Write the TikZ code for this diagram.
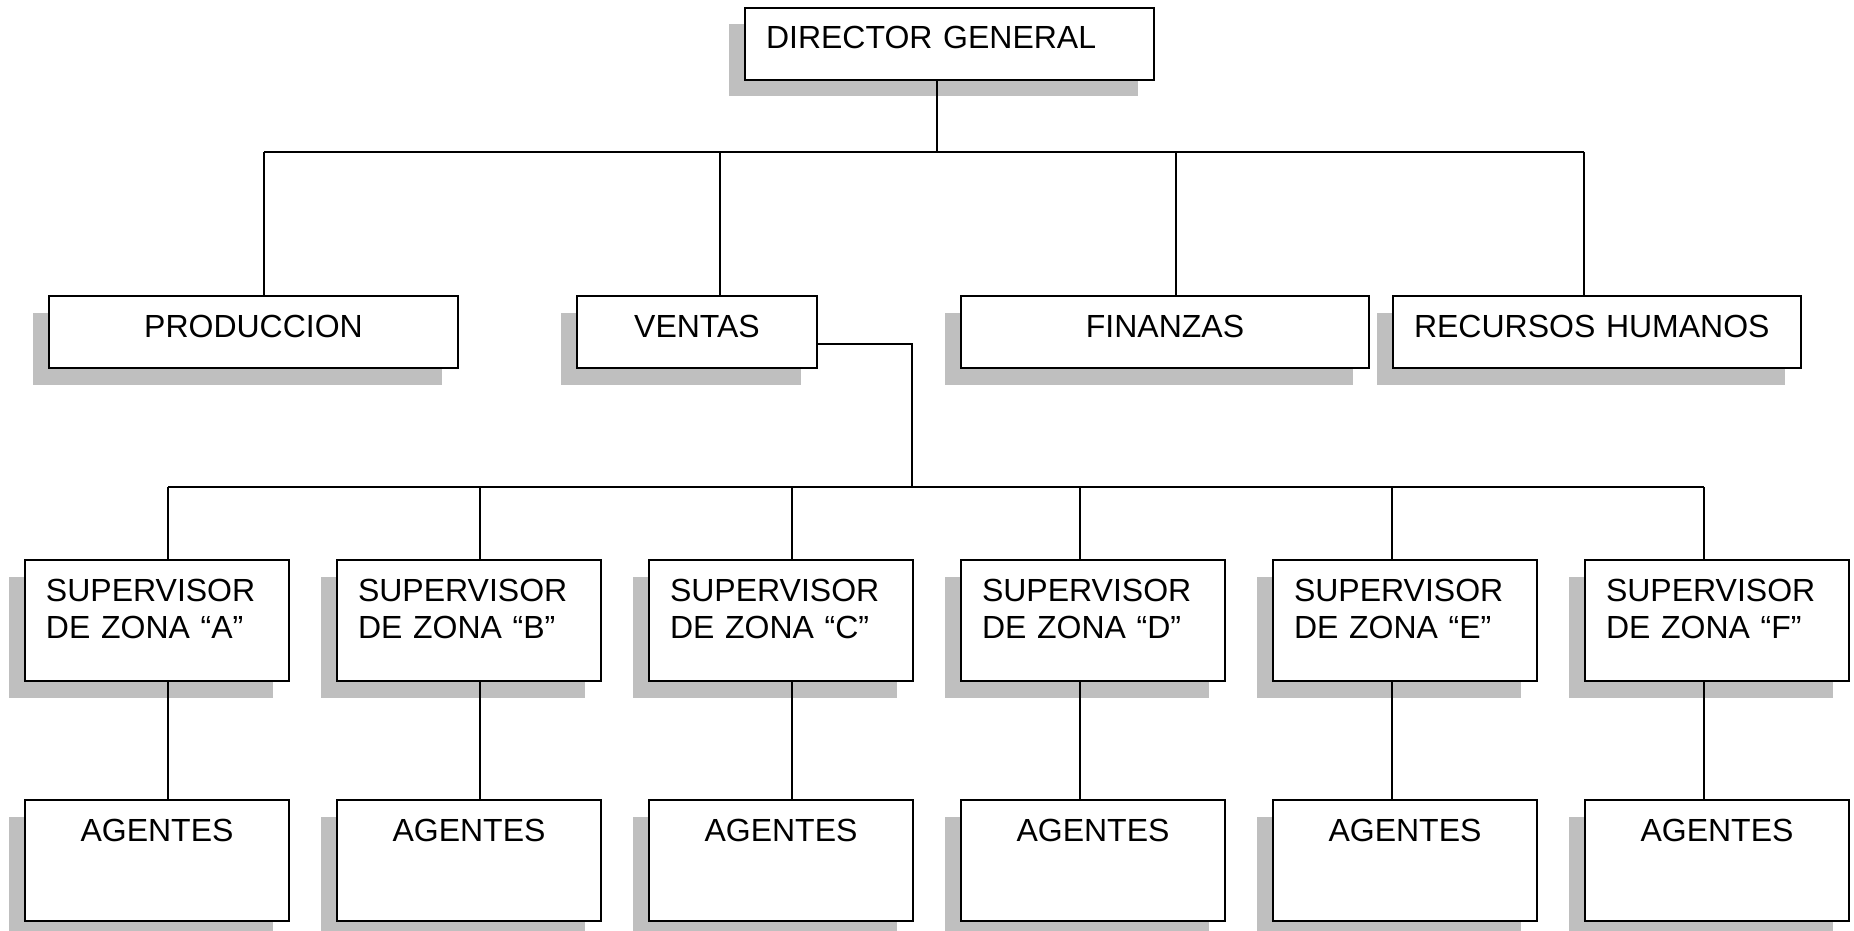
\documentclass[tikz,border=0pt]{standalone}
\usepackage{fontspec}
\setmainfont{Liberation Sans}
\usepackage{tikz}
\usetikzlibrary{shadows}
\usetikzlibrary{positioning}
\usetikzlibrary{calc}
\tikzstyle{caja}=[rectangle,draw,line width=1pt,fill=white,inner xsep=10.5pt,inner ysep=0pt,text height=20.5pt,anchor=north west,font=\fontsize{16pt}{18.5pt}\selectfont,drop shadow={shadow xshift=-8.25pt,shadow yshift=-8.25pt,fill=black!25,opacity=1}]
\tikzstyle{cajabaja}=[caja,text depth=15.5pt]
\tikzstyle{cajaalta}=[caja,text depth=40pt]
\tikzstyle{linea} = [draw,line width=1pt]

\begin{document}
\begin{tikzpicture}[x=0.5pt,y=-0.5pt]
    \useasboundingbox (0,0) rectangle (1854,931);

    % direccion y departamentos
    \node[cajabaja,text width=183.5pt,align=left] (dir) at (744,7) {DIRECTOR GENERAL};
    \node[cajabaja,text width=183.5pt,align=center] (prod) at (48,295) {PRODUCCION};
    \node[cajabaja,text width=99pt,align=center] (ven) at (576,295) {VENTAS};
    \node[cajabaja,text width=183pt,align=center] (fin) at (960,295) {FINANZAS};
    \node[cajabaja,text width=183pt,align=left] (rh) at (1392,295) {RECURSOS HUMANOS};

    % supervisores de zona y agentes
    \foreach \z/\xx/\bx in {A/24/168, B/336/480, C/648/792, D/960/1080, E/1272/1392, F/1584/1704}
    {
        \node[cajaalta,text width=111pt,align=left] (sup\z) at (\xx,559) {SUPERVISOR\\DE ZONA “\z”};
        \node[cajaalta,text width=111pt,align=center,below=58.5pt of sup\z.south west,anchor=north west] (ag\z) {AGENTES};
        \coordinate (bSup\z) at (\bx,487);
    }

    % lineas de mando
    \coordinate (bDir) at (937,152);
    \coordinate (bProd) at (264,152);
    \coordinate (bVen) at (720,152);
    \coordinate (bFin) at (1176,152);
    \coordinate (bRH) at (1584,152);
    \coordinate (bZonas) at (912,487);
    \path[linea] (bProd) -- (bRH);
    \path[linea] (dir.south -| bDir) -- (bDir);
    \foreach \n/\b in {prod/bProd, ven/bVen, fin/bFin, rh/bRH}
        \path[linea] (\b) -- (\b |- \n.north);

    \path[linea] ([yshift=-6pt]ven.east) -| (bZonas);
    \path[linea] (bSupA) -- (bSupF);
    \foreach \z in {A,B,C,D,E,F}
    {
        \path[linea] (bSup\z) -- (bSup\z |- sup\z.north);
        \path[linea] (sup\z.south -| bSup\z) -- (ag\z.north -| bSup\z);
    }
\end{tikzpicture}
\end{document}
